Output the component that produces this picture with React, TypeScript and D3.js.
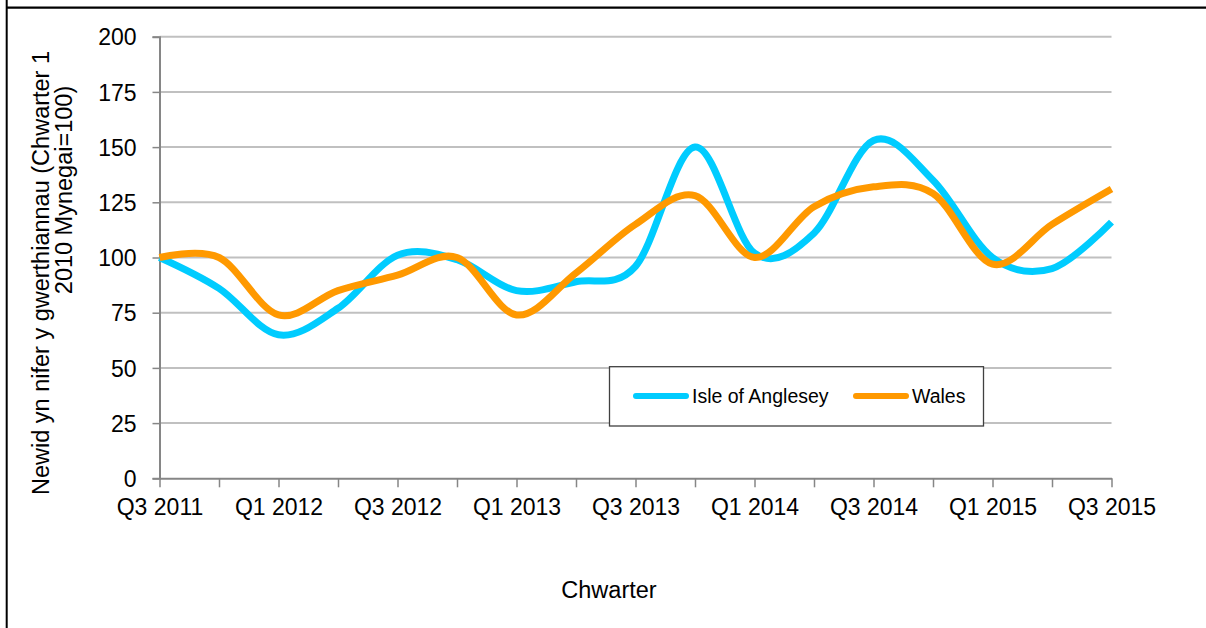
import React, { useRef, useEffect } from "react";
import * as d3 from "d3";

const quarters = [
  "Q3 2011", "Q4 2011", "Q1 2012", "Q2 2012", "Q3 2012", "Q4 2012",
  "Q1 2013", "Q2 2013", "Q3 2013", "Q4 2013", "Q1 2014", "Q2 2014",
  "Q3 2014", "Q4 2014", "Q1 2015", "Q2 2015", "Q3 2015",
];
const anglesey = [100, 86, 65, 77, 101, 99, 85, 89, 96, 150, 102, 111, 153, 135, 100, 95, 116];
const wales = [100, 100, 74, 85, 92, 100, 74, 93, 115, 128, 100, 123, 132, 129, 97, 115, 131];
const yTicks = [0, 25, 50, 75, 100, 125, 150, 175, 200];

const FONT = "'Liberation Sans', Arial, sans-serif";

const App = () => {
  const ref = useRef<SVGSVGElement>(null);

  useEffect(() => {
    const svg = d3.select(ref.current);
    svg.selectAll("*").remove();

    const x = d3.scalePoint().domain(quarters).range([159.5, 1111.5]);
    const y = d3.scaleLinear().domain([0, 200]).range([478.3, 36.7]);

    // frame
    svg.append("line").attr("x1", 6.7).attr("x2", 6.7).attr("y1", 0).attr("y2", 628)
      .attr("stroke", "#000").attr("stroke-width", 2);
    svg.append("line").attr("x1", 6).attr("x2", 1206).attr("y1", 7.6).attr("y2", 7.6)
      .attr("stroke", "#000").attr("stroke-width", 2.2);

    // gridlines
    svg.append("g")
      .selectAll("line")
      .data(yTicks.filter((d) => d > 0))
      .enter()
      .append("line")
      .attr("x1", 159.5)
      .attr("x2", 1111.5)
      .attr("y1", (d) => y(d))
      .attr("y2", (d) => y(d))
      .attr("stroke", "#c0c0c0")
      .attr("stroke-width", 2);

    // y axis
    const yAxis = svg.append("g")
      .attr("transform", "translate(159.5,0)")
      .call(d3.axisLeft(y).tickValues(yTicks).tickSize(7).tickPadding(16));
    yAxis.select(".domain").attr("stroke", "#868686").attr("stroke-width", 2);
    yAxis.selectAll(".tick line").attr("stroke", "#868686").attr("stroke-width", 1.5);
    yAxis.selectAll(".tick text")
      .attr("font-family", FONT)
      .attr("font-size", 23)
      .attr("fill", "#000")
      .attr("dy", "0.36em");

    // x axis
    const xAxis = svg.append("g")
      .attr("transform", "translate(0,478.3)")
      .call(
        d3.axisBottom(x)
          .tickSize(9)
          .tickSizeOuter(0)
          .tickFormat((d, i) => (i % 2 === 0 ? (d as string) : ""))
      );
    xAxis.select(".domain").attr("stroke", "#868686").attr("stroke-width", 2);
    xAxis.selectAll(".tick line").attr("stroke", "#868686").attr("stroke-width", 1.5);
    xAxis.selectAll(".tick text")
      .attr("font-family", FONT)
      .attr("font-size", 23)
      .attr("fill", "#000")
      .attr("y", 0)
      .attr("dy", 37);

    // series
    const line = d3.line<number>()
      .x((d, i) => x(quarters[i]) as number)
      .y((d) => y(d))
      .curve(d3.curveCardinal.tension(0));

    const series = [
      { name: "Isle of Anglesey", values: anglesey, color: "#00CCFF" },
      { name: "Wales", values: wales, color: "#FF9900" },
    ];

    series.forEach((s) => {
      svg.append("path")
        .attr("d", line(s.values))
        .attr("fill", "none")
        .attr("stroke", s.color)
        .attr("stroke-width", 7)
        .attr("stroke-linejoin", "round");
    });

    // legend
    const lg = svg.append("g");
    lg.append("rect")
      .attr("x", 609.5).attr("y", 366.7).attr("width", 374).attr("height", 59.3)
      .attr("fill", "#fff").attr("stroke", "#404040").attr("stroke-width", 1.3);
    const legendPos = [
      { lx: 636, tx: 692 },
      { lx: 856, tx: 912 },
    ];
    series.forEach((s, i) => {
      lg.append("line")
        .attr("x1", legendPos[i].lx).attr("x2", legendPos[i].lx + 50)
        .attr("y1", 396).attr("y2", 396)
        .attr("stroke", s.color).attr("stroke-width", 6).attr("stroke-linecap", "round");
      lg.append("text")
        .attr("x", legendPos[i].tx).attr("y", 403)
        .attr("font-family", FONT).attr("font-size", 19.5).attr("fill", "#000")
        .text(s.name);
    });

    // axis titles
    svg.append("text")
      .attr("transform", "translate(49,273) rotate(-90)")
      .attr("text-anchor", "middle")
      .attr("font-family", FONT).attr("font-size", 23.5).attr("fill", "#000")
      .text("Newid yn nifer y gwerthiannau (Chwarter 1");
    svg.append("text")
      .attr("transform", "translate(72,190) rotate(-90)")
      .attr("text-anchor", "middle")
      .attr("font-family", FONT).attr("font-size", 23.5).attr("fill", "#000")
      .text("2010 Mynegai=100)");
    svg.append("text")
      .attr("x", 609).attr("y", 598)
      .attr("text-anchor", "middle")
      .attr("font-family", FONT).attr("font-size", 23.5).attr("fill", "#000")
      .text("Chwarter");
  }, []);

  return (
    <svg
      ref={ref}
      width={1206}
      height={628}
      style={{ position: "absolute", left: 0, top: 0, background: "#fff" }}
    ></svg>
  );
};

export default App;
